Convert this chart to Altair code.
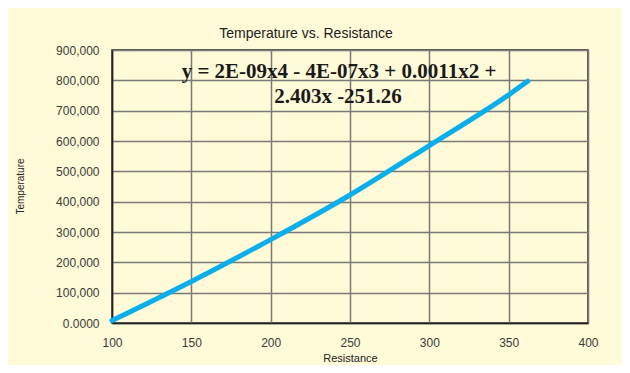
import altair as alt
import pandas as pd

# Curve
resistance = [100, 150, 200, 250, 300, 350, 362]
temperature = [8000, 137000, 275000, 422000, 585000, 752000, 797000]

x_ticks = [100, 150, 200, 250, 300, 350, 400]
y_ticks = [0, 100000, 200000, 300000, 400000, 500000, 600000, 700000, 800000, 900000]

eq_line1 = "y = 2E-09x4 - 4E-07x3 + 0.0011x2 +"
eq_line2 = "2.403x -251.26"

df = pd.DataFrame({"Resistance": resistance, "Temperature": temperature})

CREAM = "#fffad8"

line = alt.Chart(df).mark_line(
    color="#0aaeea", strokeWidth=5, strokeCap="round", strokeJoin="round", interpolate="monotone"
).encode(
    x=alt.X("Resistance:Q",
            scale=alt.Scale(domain=[100, 400], nice=False, zero=False),
            axis=alt.Axis(values=x_ticks, title="Resistance", grid=True,
                          gridColor="#7a7a7a", gridWidth=1.5,
                          domainColor="#222222", domainWidth=1.5,
                          ticks=False, labelPadding=14, labelFontSize=12,
                          labelFlush=False, labelOverlap=False,
                          labelColor="#3a3a3a", labelFont="Liberation Sans",
                          titleFont="Liberation Sans", titleFontSize=11,
                          titleFontWeight="normal", titleColor="#222222",
                          titlePadding=4)),
    y=alt.Y("Temperature:Q",
            scale=alt.Scale(domain=[0, 900000], nice=False),
            axis=alt.Axis(values=y_ticks, title="Temperature", grid=True,
                          gridColor="#7a7a7a", gridWidth=1.5,
                          domainColor="#222222", domainWidth=1.5,
                          ticks=False, labelPadding=13, labelFontSize=12,
                          labelFlush=False, labelOverlap=False,
                          labelColor="#3a3a3a", labelFont="Liberation Sans",
                          labelExpr="datum.value == 0 ? '0.0000' : format(datum.value, ',')",
                          titleFont="Liberation Sans", titleFontSize=10,
                          titleFontWeight="normal", titleColor="#222222",
                          titleX=-92, titleY=136, titleAngle=270,
                          titleAlign="center", titleBaseline="middle")),
)

eq1 = alt.Chart(pd.DataFrame({"t": [eq_line1]})).mark_text(
    font="Liberation Serif", fontWeight="bold", fontSize=21, color="#1a1a1a",
    align="center", baseline="middle"
).encode(x=alt.value(227), y=alt.value(22), text="t:N")

eq2 = alt.Chart(pd.DataFrame({"t": [eq_line2]})).mark_text(
    font="Liberation Serif", fontWeight="bold", fontSize=21, color="#1a1a1a",
    align="center", baseline="middle"
).encode(x=alt.value(226), y=alt.value(47), text="t:N")

chart = alt.layer(line, eq1, eq2).properties(
    width=476, height=273,
    title=alt.TitleParams("Temperature vs. Resistance", anchor="middle", dx=-44,
                          fontSize=14, fontWeight="normal", font="Liberation Sans",
                          color="#222222", offset=3),
    autosize=alt.AutoSizeParams(type="none"),
    padding={"left": 104, "top": 42, "right": 34, "bottom": 42},
    background=CREAM,
).configure_view(
    stroke="#222222", strokeWidth=1.5, fill=CREAM
)

chart.save("out.html", embed_options={"renderer": "svg", "actions": False})
